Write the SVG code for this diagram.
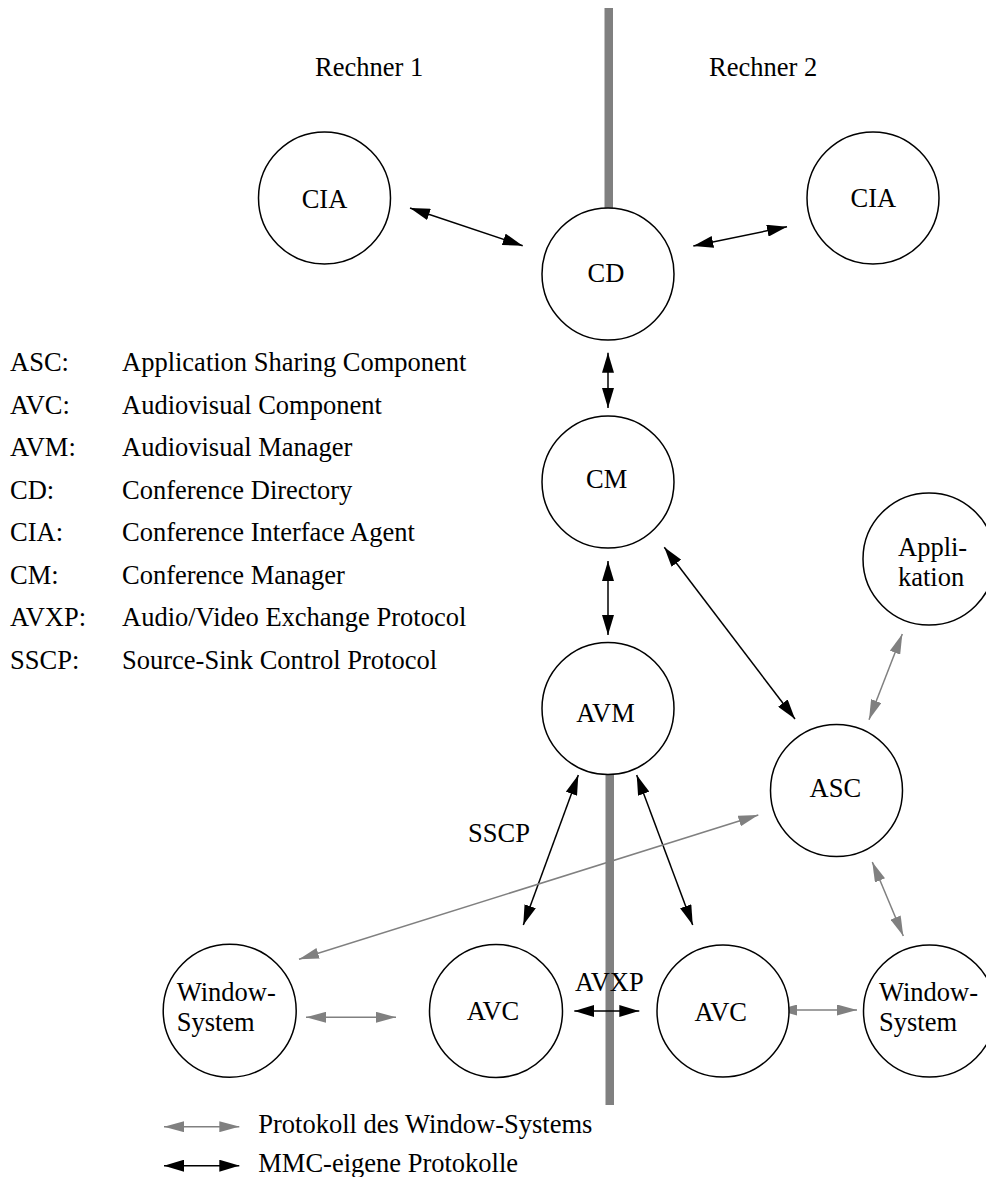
<svg xmlns="http://www.w3.org/2000/svg" width="986" height="1177" viewBox="0 0 986 1177">
  <style>
    text { font-family: "Liberation Serif", "Times New Roman", serif; font-size: 26.5px; fill: #000; }
    .mid { text-anchor: middle; }
    .node { fill: #fff; stroke: #000; stroke-width: 1.5; }
    .mmc { stroke: #000; stroke-width: 1.5; fill: none; marker-start: url(#hb); marker-end: url(#hb); }
    .ws { stroke: #808080; stroke-width: 1.5; fill: none; marker-start: url(#hg); marker-end: url(#hg); }
    .bar { fill: #808080; }
  </style>
  <defs>
    <marker id="hb" markerUnits="userSpaceOnUse" markerWidth="20" markerHeight="12" refX="20" refY="6" orient="auto-start-reverse">
      <path d="M0,0 L20,6 L0,12 z" fill="#000"/>
    </marker>
    <marker id="hg" markerUnits="userSpaceOnUse" markerWidth="20" markerHeight="11" refX="20" refY="5.5" orient="auto-start-reverse">
      <path d="M0,0 L20,5.5 L0,11 z" fill="#808080"/>
    </marker>
  </defs>

  <rect width="986" height="1177" fill="#fff"/>

  <!-- machine boundary -->
  <g id="boundary">
    <rect class="bar" x="604.5" y="8" width="8.5" height="201"/>
    <rect class="bar" x="605.5" y="773" width="8.5" height="332"/>
  </g>

  <!-- headings -->
  <text x="315" y="76">Rechner 1</text>
  <text x="709" y="76">Rechner 2</text>

  <!-- abbreviations -->
  <g id="glossary">
    <text x="10" y="371">ASC:</text><text x="122" y="371">Application Sharing Component</text>
    <text x="10" y="413.5">AVC:</text><text x="122" y="413.5">Audiovisual Component</text>
    <text x="10" y="456">AVM:</text><text x="122" y="456">Audiovisual Manager</text>
    <text x="10" y="498.5">CD:</text><text x="122" y="498.5">Conference Directory</text>
    <text x="10" y="541">CIA:</text><text x="122" y="541">Conference Interface Agent</text>
    <text x="10" y="583.5">CM:</text><text x="122" y="583.5">Conference Manager</text>
    <text x="10" y="626">AVXP:</text><text x="122" y="626">Audio/Video Exchange Protocol</text>
    <text x="10" y="668.5">SSCP:</text><text x="122" y="668.5">Source-Sink Control Protocol</text>
  </g>

  <!-- connectors -->
  <g id="connectors">
    <line class="mmc" x1="410" y1="208" x2="522.7" y2="245.7"/>
    <line class="mmc" x1="693.3" y1="246" x2="787" y2="226.7"/>
    <line class="mmc" x1="608" y1="352.7" x2="608" y2="408"/>
    <line class="mmc" x1="608" y1="561" x2="608" y2="635"/>
    <line class="mmc" x1="664.3" y1="547.3" x2="795" y2="719"/>
    <line class="mmc" x1="578.3" y1="775" x2="523.3" y2="925"/>
    <line class="mmc" x1="636.7" y1="775" x2="692.7" y2="925"/>
    <line class="mmc" x1="574.3" y1="1011" x2="639.3" y2="1011"/>
    <line class="ws" x1="306" y1="1017.3" x2="396" y2="1017.3"/>
    <line class="ws" x1="299" y1="959.3" x2="758.3" y2="815"/>
    <line class="ws" x1="902.3" y1="634" x2="869" y2="719.7"/>
    <line class="ws" x1="872.3" y1="862" x2="903.3" y2="936"/>
    <line class="ws" x1="777.3" y1="1010" x2="857" y2="1010"/>
    <text x="468" y="841.7">SSCP</text>
    <text x="575" y="990.7">AVXP</text>
  </g>

  <g id="cia1"><circle class="node" cx="324.5" cy="198" r="66"/><text class="mid" x="324.5" y="208">CIA</text></g>
  <g id="cia2"><circle class="node" cx="873" cy="198" r="66"/><text class="mid" x="873.3" y="207.3">CIA</text></g>
  <g id="cd"><circle class="node" cx="608" cy="274" r="66"/><text class="mid" x="606" y="281.7">CD</text></g>
  <g id="cm"><circle class="node" cx="608" cy="482" r="66"/><text class="mid" x="606.7" y="488.3">CM</text></g>
  <g id="avm"><circle class="node" cx="608" cy="708.5" r="66"/><text class="mid" x="605.5" y="721.7">AVM</text></g>
  <g id="appl"><circle class="node" cx="929" cy="559" r="66"/><text x="898" y="556">Appli-</text><text x="898" y="586">kation</text></g>
  <g id="asc"><circle class="node" cx="836.5" cy="790.5" r="66"/><text class="mid" x="835.3" y="796.8">ASC</text></g>
  <g id="ws1"><circle class="node" cx="229.7" cy="1010.7" r="66.5"/><text x="176.7" y="1001">Window-</text><text x="176.7" y="1031">System</text></g>
  <g id="avc1"><circle class="node" cx="496" cy="1011" r="66.5"/><text class="mid" x="493" y="1020">AVC</text></g>
  <g id="avc2"><circle class="node" cx="723" cy="1011" r="66"/><text class="mid" x="720.8" y="1021">AVC</text></g>
  <g id="ws2"><circle class="node" cx="929.5" cy="1011" r="66"/><text x="879" y="1001">Window-</text><text x="879" y="1031">System</text></g>

  <!-- line key -->
  <g id="key">
    <line class="ws" x1="164" y1="1126.7" x2="239.3" y2="1126.7"/>
    <text x="258.3" y="1133.3">Protokoll des Window-Systems</text>
    <line class="mmc" x1="164" y1="1165.7" x2="239.3" y2="1165.7"/>
    <text x="258.3" y="1172">MMC-eigene Protokolle</text>
  </g>
</svg>
